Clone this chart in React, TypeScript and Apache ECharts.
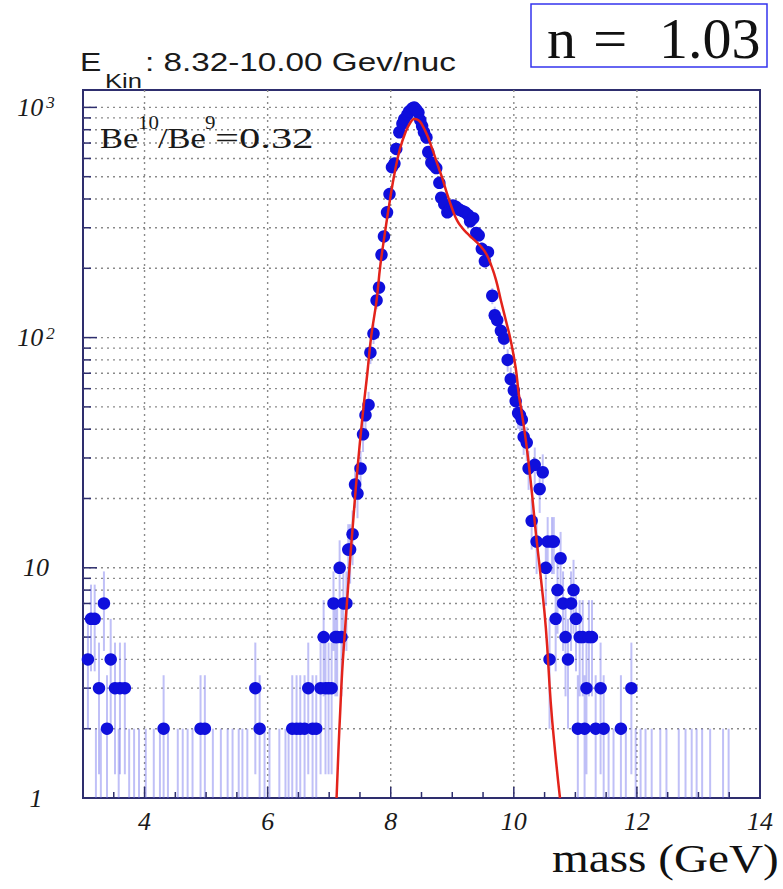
import React, { useEffect, useRef } from 'react';
import * as echarts from 'echarts';

// ---- data ----
const dotMass = [
  3.08, 3.13, 3.19, 3.26, 3.34, 3.39, 3.45, 3.52, 3.6, 3.68,
  4.31, 4.91, 4.98, 5.8, 5.87, 6.4, 6.47, 6.53, 6.6, 6.66,
  6.73, 6.79, 6.86, 6.91, 6.94, 6.99, 7.04, 7.07, 7.1, 7.13,
  7.17, 7.2, 7.23, 7.28, 7.31, 7.34, 7.38, 7.42, 7.46, 7.51,
  7.55, 7.59, 7.64, 7.67, 7.72, 7.77, 7.81, 7.85, 7.89, 7.94,
  7.98, 8.02, 8.06, 8.09, 8.14, 8.19, 8.22, 8.27, 8.3, 8.35,
  8.38, 8.41, 8.45, 8.48, 8.51, 8.54, 8.58, 8.61, 8.66, 8.7,
  8.74, 8.79, 8.82, 8.87, 8.92, 8.96, 9.01, 9.06, 9.11, 9.16,
  9.21, 9.26, 9.29, 9.34, 9.39, 9.43, 9.48, 9.53, 9.58, 9.65,
  9.69, 9.73, 9.79, 9.84, 9.9, 9.95, 10.0, 10.03, 10.07, 10.1,
  10.13, 10.16, 10.21, 10.24, 10.29, 10.34, 10.37, 10.42, 10.47, 10.52,
  10.55, 10.58, 10.62, 10.65, 10.68, 10.71, 10.76, 10.8, 10.84, 10.88,
  10.93, 10.97, 11.01, 11.04, 11.07, 11.12, 11.15, 11.18, 11.22, 11.27,
  11.33, 11.41, 11.46, 11.74, 11.91,
];
const dotCounts = [
  4, 6, 6, 3, 7, 2, 4, 3, 3, 3,
  2, 2, 2, 3, 2, 2, 2, 2, 2, 3,
  2, 2, 3, 5, 3, 3, 3, 7, 5, 5,
  10, 5, 7, 7, 12, 12, 14, 23, 21, 27,
  38, 46, 51, 86, 104, 145, 165, 229, 275, 350,
  420, 550, 570, 660, 780, 850, 890, 930, 960, 990,
  1000, 980, 950, 880, 830, 780, 740, 640, 575, 560,
  545, 470, 405, 380, 350, 360, 375, 370, 360, 355,
  350, 340, 320, 330, 285, 278, 243, 215, 235, 152,
  125, 119, 107, 99, 80, 66, 59, 53, 47, 46,
  44, 37, 35, 27, 16, 28, 13, 22, 26, 10,
  13, 4, 13, 13, 6, 8, 11, 7, 5, 4,
  7, 8, 6, 2, 5, 5, 2, 3, 5, 5,
  2, 3, 2, 2, 3,
];
// bins holding a single entry (only their error bar is visible)
const singleMass = [
  3.21, 3.29, 3.58, 3.75, 3.83, 3.91, 4.02, 4.15, 4.25, 4.38,
  4.54, 4.62, 4.7, 4.78, 5.11, 5.24, 5.35, 5.43, 5.53, 5.59,
  5.67, 5.95, 6.03, 6.19, 6.29, 6.34,
  11.54, 11.62, 11.82, 11.98, 12.06, 12.14, 12.24, 12.38, 12.48, 12.68,
  12.79, 12.89, 12.97, 13.06, 13.19, 13.4, 13.49,
];
// fit curve
const fitMass = [
  7.12, 7.15, 7.18, 7.21, 7.26, 7.33, 7.39, 7.46, 7.54, 7.62,
  7.68, 7.77, 7.83, 7.91, 7.99, 8.07, 8.15, 8.24, 8.32, 8.38,
  8.45, 8.51, 8.59, 8.67, 8.75, 8.84, 8.92, 9.0, 9.08, 9.16,
  9.24, 9.32, 9.4, 9.48, 9.56, 9.63, 9.71, 9.79, 9.87, 9.95,
  10.03, 10.08, 10.13, 10.2, 10.28, 10.36, 10.44, 10.52, 10.6, 10.67,
  10.75,
];
const fitValue = [
  1, 1.6, 2.4, 3.5, 5.5, 10, 16, 27, 45, 70,
  100, 145, 205, 290, 400, 530, 660, 780, 860, 890,
  880, 840, 760, 665, 575, 490, 418, 362, 322, 300,
  284, 271, 259, 246, 229, 207, 178, 145, 119, 97,
  74, 57, 47, 35, 23, 14, 9, 5.5, 2.6, 1.6,
  1,
];

// axes / ticks
const xMin = 3;
const xMax = 14;
const yMin = 1;
const yMax = 1190;
const xLabelValues = [4, 6, 8, 10, 12, 14];
const xGridValues = [4, 6, 8, 10, 12];
const xMajorTicks = [4, 6, 8, 10, 12];
const xMinorTicks = [3.5, 4.5, 5, 5.5, 6.5, 7, 7.5, 8.5, 9, 9.5, 10.5, 11, 11.5, 12.5, 13, 13.5];
const yMajorGrid = [10, 100, 1000];
const yMinorGrid = [
  2, 3, 4, 5, 6, 7, 8, 9,
  20, 30, 40, 50, 60, 70, 80, 90,
  200, 300, 400, 500, 600, 700, 800, 900,
];

const FRAME = '#2e2e6e';
const SERIF = '"Liberation Serif", "Times New Roman", serif';
const SANS = '"Liberation Sans", Arial, sans-serif';

function txt(text: string, x: number, y: number, font: string, scaleX: number, fill = '#1a1a1a') {
  return {
    type: 'text',
    x,
    y,
    scaleX,
    z: 10,
    style: {
      text,
      font,
      fill,
      align: 'left',
      verticalAlign: 'middle',
      textAlign: 'left',
      textVerticalAlign: 'middle',
    },
  };
}

export default function App() {
  const ref = useRef<HTMLDivElement>(null);

  useEffect(() => {
    if (!ref.current) return;
    const chart = echarts.init(ref.current, null, { renderer: 'svg' });

    const errData: number[][] = dotMass.map((m, i) => {
      const n = dotCounts[i];
      const s = Math.sqrt(n);
      return [m, Math.max(yMin, n - s), n + s];
    });
    singleMass.forEach((m) => errData.push([m, yMin, 2]));

    const hGridData = yMinorGrid.map((v) => [xMin, v, 0]).concat(yMajorGrid.map((v) => [xMin, v, 1]));
    const vGridData = xGridValues.map((v) => [v, yMin]);
    const xTickData = xMinorTicks.map((v) => [v, yMin, 0]).concat(xMajorTicks.map((v) => [v, yMin, 1]));

    const option: any = {
      animation: false,
      backgroundColor: '#ffffff',
      grid: {
        left: 83,
        right: 23,
        top: 90,
        bottom: 91,
        show: true,
        borderColor: FRAME,
        borderWidth: 2,
        backgroundColor: 'transparent',
        containLabel: false,
        outerBoundsMode: 'none',
      },
      xAxis: {
        type: 'value',
        min: xMin,
        max: xMax,
        interval: 1,
        axisLine: { show: true, lineStyle: { color: FRAME, width: 2 } },
        axisTick: { show: false },
        splitLine: { show: false },
        axisLabel: {
          showMinLabel: false,
          showMaxLabel: true,
          margin: 10,
          fontFamily: SERIF,
          fontStyle: 'italic',
          fontSize: 26,
          color: '#1a1a1a',
          formatter: (v: number) => (xLabelValues.indexOf(Math.round(v * 1000) / 1000) >= 0 ? String(Math.round(v)) : ''),
        },
      },
      yAxis: {
        type: 'log',
        logBase: 10,
        min: yMin,
        max: yMax,
        axisLine: { show: true, lineStyle: { color: FRAME, width: 2 } },
        axisTick: { show: false },
        splitLine: { show: false },
        axisLabel: {
          margin: 47,
          align: 'center',
          fontFamily: SERIF,
          fontStyle: 'italic',
          fontSize: 26,
          color: '#1a1a1a',
          formatter: (v: number) => {
            const l = Math.log10(v);
            const e = Math.round(l);
            if (Math.abs(l - e) > 1e-6) return '';
            if (e === 0) return '1';
            if (e === 1) return '10';
            return '10{sup|' + e + '}';
          },
          rich: {
            sup: {
              fontFamily: SERIF,
              fontStyle: 'italic',
              fontSize: 17,
              color: '#1a1a1a',
              verticalAlign: 'top',
              padding: [0, 0, 0, 3],
            },
          },
        },
      },
      series: [
        {
          type: 'custom',
          name: 'hgrid',
          silent: true,
          z: 1,
          data: hGridData,
          encode: { x: 0, y: 1 },
          renderItem: (params: any, api: any) => {
            const cs = params.coordSys;
            const y = api.coord([xMin, api.value(1)])[1];
            const major = api.value(2) === 1;
            return {
              type: 'group',
              children: [
                {
                  type: 'line',
                  shape: { x1: cs.x, y1: y, x2: cs.x + cs.width, y2: y },
                  style: { stroke: '#8a8a8a', lineWidth: 1.4, lineDash: [2, 4] },
                },
                {
                  type: 'line',
                  shape: { x1: cs.x, y1: y, x2: cs.x + (major ? 14 : 8), y2: y },
                  style: { stroke: FRAME, lineWidth: 1.5 },
                },
              ],
            };
          },
        },
        {
          type: 'custom',
          name: 'vgrid',
          silent: true,
          z: 1,
          data: vGridData,
          encode: { x: 0, y: 1 },
          renderItem: (params: any, api: any) => {
            const cs = params.coordSys;
            const x = api.coord([api.value(0), yMin])[0];
            return {
              type: 'line',
              shape: { x1: x, y1: cs.y, x2: x, y2: cs.y + cs.height },
              style: { stroke: '#8a8a8a', lineWidth: 1.4, lineDash: [2, 4] },
            };
          },
        },
        {
          type: 'custom',
          name: 'xticks',
          silent: true,
          z: 5,
          data: xTickData,
          encode: { x: 0, y: 1 },
          renderItem: (params: any, api: any) => {
            const cs = params.coordSys;
            const x = api.coord([api.value(0), yMin])[0];
            const len = api.value(2) === 1 ? 11 : 6;
            const yb = cs.y + cs.height;
            return {
              type: 'line',
              shape: { x1: x, y1: yb, x2: x, y2: yb - len },
              style: { stroke: FRAME, lineWidth: 1.5 },
            };
          },
        },
        {
          type: 'custom',
          name: 'errors',
          silent: true,
          z: 2,
          data: errData,
          encode: { x: 0, y: [1, 2] },
          renderItem: (params: any, api: any) => {
            const p1 = api.coord([api.value(0), api.value(1)]);
            const p2 = api.coord([api.value(0), api.value(2)]);
            return {
              type: 'line',
              shape: { x1: p1[0], y1: p1[1], x2: p2[0], y2: p2[1] },
              style: { stroke: 'rgba(105,105,235,0.42)', lineWidth: 2 },
            };
          },
        },
        {
          type: 'scatter',
          name: 'data',
          z: 3,
          symbol: 'circle',
          symbolSize: 12.5,
          itemStyle: { color: '#0f0fdc', opacity: 1 },
          data: dotMass.map((m, i) => [m, dotCounts[i]]),
        },
        {
          type: 'line',
          name: 'fit',
          z: 4,
          smooth: 0.5,
          showSymbol: false,
          symbol: 'none',
          lineStyle: { color: '#e3231b', width: 2.5 },
          data: fitMass.map((m, i) => [m, fitValue[i]]),
        },
      ],
      graphic: [
        txt('E', 80, 62, `25px ${SANS}`, 1.28),
        txt('Kin', 105, 81, `20px ${SANS}`, 1.28),
        txt(': 8.32-10.00 Gev/nuc', 145, 62, `26px ${SANS}`, 1.28),
        txt('Be', 100, 138, `30px ${SERIF}`, 1.15),
        txt('10', 138, 122, `19px ${SERIF}`, 1.1),
        txt('/Be', 158, 138, `30px ${SERIF}`, 1.15),
        txt('9', 205, 122, `19px ${SERIF}`, 1.1),
        txt('=0.32', 215, 138, `30px ${SERIF}`, 1.42),
        {
          type: 'rect',
          z: 10,
          shape: { x: 531, y: 4, width: 236, height: 63 },
          style: { fill: '#ffffff', stroke: '#3434ee', lineWidth: 1.5 },
        },
        txt('n', 547, 38, `58px ${SERIF}`, 1.0, '#111111'),
        txt('=', 593, 38, `58px ${SERIF}`, 1.05, '#111111'),
        txt('1.03', 659, 38, `58px ${SERIF}`, 1.0, '#111111'),
        txt('mass (GeV)', 552, 858, `40px ${SERIF}`, 1.18, '#111111'),
      ],
    };

    chart.setOption(option);
    return () => {
      chart.dispose();
    };
  }, []);

  return (
    <div
      ref={ref}
      style={{ position: 'fixed', left: 0, top: 0, width: 783, height: 889, background: '#ffffff' }}
    />
  );
}
